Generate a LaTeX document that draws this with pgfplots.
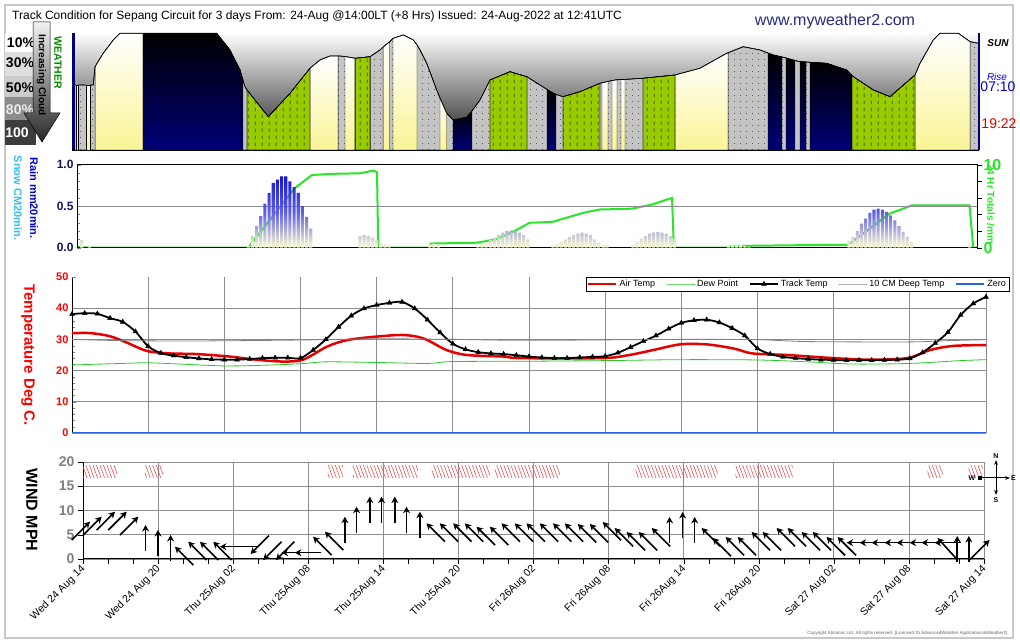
\documentclass[border=0pt]{standalone}
\usepackage{pgfplots}
\pgfplotsset{compat=1.18}
\usepackage{pgfplotstable}
\usetikzlibrary{patterns.meta,arrows.meta}
\usepackage{fontspec}
\setmainfont{Liberation Sans}
\newcommand\fs[1]{\fontsize{#1pt}{#1pt}\selectfont}

\definecolor{navyd}{RGB}{0,0,120}
\definecolor{sunnyc}{RGB}{250,244,150}
\definecolor{rainc}{RGB}{153,204,0}
\definecolor{cloudc}{RGB}{196,196,196}
\definecolor{barblue}{RGB}{20,20,215}
\definecolor{barmid}{RGB}{95,95,228}
\definecolor{barcream}{RGB}{252,252,205}
\definecolor{airred}{RGB}{230,0,0}
\definecolor{dewgreen}{RGB}{40,200,40}
\definecolor{zeroblue}{RGB}{40,100,230}
\definecolor{totgreen}{RGB}{40,230,40}
\definecolor{sitenavy}{RGB}{35,45,125}
\definecolor{framegrey}{RGB}{200,200,200}
\definecolor{ticknavy}{RGB}{20,20,90}
\definecolor{hatchred}{RGB}{235,70,70}

\tikzdeclarepattern{name=clouddots, type=uncolored,
  bounding box={(0pt,0pt) and (6pt,6pt)}, tile size={(6pt,6pt)},
  code={\fill (3pt,3pt) circle (0.45pt);}}
\tikzdeclarepattern{name=raindash, type=uncolored,
  bounding box={(0pt,0pt) and (7pt,7pt)}, tile size={(7pt,7pt)},
  code={\draw[line width=0.6pt] (3.5pt,1pt) -- (3.5pt,5pt);}}

% cloud envelope: hours from start, height in px above panel bottom
\pgfplotstableread{
h y
0 65
0.30 65
0.48 65
1.10 65
1.45 65
1.69 65
1.83 83.3
2.48 96.7
3.28 110
3.81 116.7
5.64 116.7
11.49 116.7
12.54 100
13.34 80
13.57 70
13.73 63.3
13.89 60
15.58 33.3
17.31 56.7
18.89 81.7
19.69 90
20.48 94
21.12 94
21.27 94
21.67 93.5
22.47 91.7
23.66 93.3
24.45 100
24.70 103
25.20 108
25.48 111.6
26.30 115
27.09 110
27.39 105
27.63 100
28.16 86.7
28.95 60
29.21 52
29.75 36.7
30.25 30
31.33 32.7
31.75 39
32.39 50
33.18 70
34.77 78.3
36.12 73.2
37.15 65
37.71 60.5
38.21 56.7
38.42 55.5
38.98 53.3
40.33 58.3
41.91 66.7
42.07 67.2
42.55 68.5
42.87 69.5
43.26 70.2
43.58 70.4
43.90 70.6
45.33 71.7
47.87 75
49.85 81.7
51.97 96.7
52.08 97.3
53.29 103.3
54.62 100
55.25 97
55.67 95
56.36 93
56.68 92
57.39 89.5
57.79 88.3
58.27 88
58.59 87.7
59.91 86.7
61.50 80
61.92 74.5
62.02 73.3
63.61 60
64.94 53.3
66.92 75
67.32 86.7
68.37 110
68.90 116.7
70.36 116.7
71.29 108.3
72 106.7
}\envelope

% rain mm per 20 min
\pgfplotstableread{
h r
0.38 0.09
1.00 0.01
13.70 0.02
14.03 0.14
14.37 0.26
14.70 0.38
15.03 0.53
15.37 0.66
15.70 0.78
16.03 0.82
16.37 0.86
16.70 0.86
17.03 0.80
17.37 0.73
17.70 0.66
18.03 0.50
18.37 0.37
18.70 0.23
22.64 0.14
22.97 0.15
23.30 0.14
23.64 0.12
23.97 0.09
24.30 0.06
24.64 0.04
24.97 0.03
28.20 0.04
28.55 0.05
28.90 0.03
32.07 0.02
32.40 0.04
32.73 0.06
33.07 0.09
33.40 0.12
33.73 0.15
34.07 0.18
34.40 0.20
34.73 0.21
35.07 0.20
35.40 0.18
35.73 0.15
36.07 0.10
38.07 0.02
38.40 0.04
38.73 0.07
39.07 0.10
39.40 0.13
39.73 0.15
40.07 0.17
40.40 0.18
40.73 0.17
41.07 0.15
41.40 0.10
41.73 0.06
42.10 0.04
42.40 0.03
44.47 0.03
44.80 0.07
45.13 0.11
45.47 0.14
45.80 0.17
46.13 0.18
46.47 0.19
46.80 0.18
47.13 0.17
47.47 0.14
47.80 0.11
52.10 0.03
52.43 0.03
52.76 0.03
53.10 0.03
53.43 0.02
53.76 0.01
61.76 0.08
62.09 0.13
62.43 0.20
62.76 0.29
63.09 0.35
63.43 0.42
63.76 0.46
64.09 0.47
64.43 0.46
64.76 0.43
65.09 0.39
65.43 0.33
65.76 0.26
66.09 0.19
66.43 0.13
66.76 0.07
71.40 0.03
}\rain

% 24 hr totals, mm
\pgfplotstableread{
h t
0 0.1
1 0
13.70 0
17.40 7.15
18.80 8.76
20.50 8.90
22.60 8.96
23.70 9.28
24.00 9.10
24.10 0
28.20 0
28.30 0.5
32.00 0.6
33.50 1.0
35.00 2.0
36.20 3.0
38.00 3.1
40.50 4.2
41.80 4.6
44.40 4.7
46.00 5.2
47.60 6.0
47.75 0
52.00 0
52.10 0.2
57.80 0.3
61.70 0.35
65.00 4.1
66.80 5.1
71.40 5.1
71.70 0
72 0
}\totals

\pgfplotstableread{
h v
0 32
1.5 32
3 31
4.3 29
5.9 26.3
7.7 25.5
9.8 25.3
12.4 24.5
14.5 23.5
16.6 22.9
18.2 23.5
20.1 27.7
21.7 29.8
24 30.9
26.1 31.4
27.7 30.3
29.5 26.6
31.1 25
34 24.5
35.3 24
41.8 24
43.9 25
45.8 26.6
47.9 28.4
50 28.4
52.1 27.1
53.6 25.5
56.3 25
60 24
62.9 23.5
65.8 24
67.6 26.6
69.4 27.9
72 28.2
}\airtemp

\pgfplotstableread{
h v
0 21.8
4 22.3
6 22.5
9 22
12 21.5
15 21.7
18 22.2
20 22.8
24 22.6
28 22.3
30 22.9
36 23.0
42 23.2
48 23.5
54 23.4
58 22.8
61.5 22.1
66 22.3
70 23.2
72 23.5
}\dewpoint

\pgfplotstableread{
h v
0 38.1
1 38.4
2 38.2
3 36.8
4 35.6
5 32.5
6 27.8
7 25.6
8 24.8
9 24.3
10 23.9
11 23.6
12 23.5
13 23.5
14 23.7
15 24.0
16 24.1
17 24.1
18 24.0
19 26.6
20 30.0
21 34.0
22 37.6
23 39.9
24 41.0
25 41.7
26 42.0
27 39.9
28 36.3
29 32.2
30 28.6
31 26.8
32 25.9
33 25.5
34 25.3
35 24.9
36 24.5
37 24.2
38 24.0
39 24.0
40 24.2
41 24.4
42 24.6
43 25.7
44 27.5
45 29.4
46 31.2
47 33.4
48 35.3
49 36.1
50 36.3
51 35.4
52 33.6
53 31.2
54 27.1
55 25.3
56 24.4
57 24.0
58 23.7
59 23.5
60 23.4
61 23.3
62 23.3
63 23.3
64 23.4
65 23.5
66 23.9
67 25.8
68 28.8
69 32.3
70 37.8
71 41.5
72 43.6
}\tracktemp

\pgfplotstableread{
h v
0 30
4 29.6
10 29.5
18 29.8
24 30.2
30 30
36 29.7
48 30
54 29.9
58 29.3
66 29.2
69 29.6
72 29.9
}\deeptemp

% wind arrows: tip position (hours, mph) and vector from tip back to tail
\pgfplotstableread{
x y u v
0.56 7.69 -1.47 -3.79
1.49 8.72 -1.47 -3.79
2.56 9.75 -1.47 -3.79
3.49 9.75 -1.47 -3.79
4.42 8.72 -1.47 -3.79
5.00 7.01 0 -5.36
5.99 5.98 0 -5.36
7.00 4.95 0 -5.36
7.35 2.54 1.47 -3.79
8.41 3.57 1.47 -3.79
9.35 3.57 1.47 -3.79
10.41 3.57 1.47 -3.79
10.94 2.54 2.96 0
13.39 1.03 1.47 3.79
14.40 -0.21 1.47 3.79
15.42 -0.21 1.47 3.79
15.87 1.30 2.08 0
16.93 1.30 2.08 0
18.39 4.60 1.47 -3.79
19.33 5.63 1.47 -3.79
20.93 8.72 0 -5.36
21.86 10.78 0 -5.36
22.92 12.85 0 -5.36
23.86 12.85 0 -5.36
24.92 12.85 0 -5.36
25.85 10.78 0 -5.36
26.92 9.75 0 -5.36
27.45 7.36 1.47 -3.79
28.51 7.36 1.47 -3.79
29.58 7.36 1.47 -3.79
30.51 7.36 1.47 -3.79
31.45 6.66 1.47 -3.79
32.51 6.66 1.47 -3.79
33.44 7.36 1.47 -3.79
34.50 7.36 1.47 -3.79
35.44 7.36 1.47 -3.79
36.50 7.36 1.47 -3.79
37.56 7.36 1.47 -3.79
38.50 7.36 1.47 -3.79
39.54 7.22 1.47 -3.79
40.50 7.22 1.47 -3.79
41.53 7.63 1.47 -3.79
42.49 6.39 1.47 -3.79
43.45 5.57 1.47 -3.79
44.41 5.57 1.47 -3.79
45.45 6.39 1.47 -3.79
46.88 8.66 0 -5.36
47.92 9.69 0 -5.36
48.88 8.66 0 -5.36
49.44 6.39 1.47 -3.79
50.32 4.33 1.47 -3.79
51.36 4.54 1.47 -3.79
52.32 4.54 1.47 -3.79
53.43 5.57 1.47 -3.79
54.31 5.57 1.47 -3.79
55.43 6.39 1.47 -3.79
56.31 6.39 1.47 -3.79
57.43 5.57 1.47 -3.79
58.31 5.57 1.47 -3.79
59.42 4.54 1.47 -3.79
60.30 4.54 1.47 -3.79
61.02 3.36 2.08 0
62.06 3.36 2.08 0
63.02 3.36 2.08 0
64.06 3.36 2.08 0
65.02 3.36 2.08 0
66.05 3.36 2.08 0
67.01 3.36 2.08 0
68.05 3.36 2.08 0
68.29 4.33 1.60 -4.54
69.86 4.74 0 -5.30
70.79 4.74 0 -5.30
72.44 3.92 -1.60 -4.12
}\windarrows

\pgfplotsset{
  panel/.style={scale only axis, anchor=south west, xmin=0, xmax=72,
    /pgf/number format/assume math mode=true},
  wxsun/.style={top color=white, bottom color=sunnyc, draw=black, line width=0.4pt},
  wxnight/.style={top color=black, bottom color=navyd, draw=black, line width=0.4pt},
  wxrain/.style={fill=rainc, draw=black, line width=0.4pt, postaction={pattern=raindash}},
  hatch/.style={draw=none, pattern={Lines[angle=-70, distance=3.3pt, line width=0.55pt]},
    pattern color=hatchred},
}

\begin{document}
\begin{tikzpicture}
\path[use as bounding box, fill=white] (0pt,0pt) rectangle (1020pt,644pt);
\draw[framegrey, line width=1.2pt] (5pt,6pt) rectangle (1013pt,639pt);

\node[anchor=west, font=\fs{12}, inner sep=0pt] at (12pt,628pt)
  {Track Condition for Sepang Circuit for 3 days From: 24-Aug @14:00LT (+8 Hrs) Issued: 24-Aug-2022 at 12:41UTC};
\node[font=\fs{16}, text=sitenavy, inner sep=0pt] at (835pt,623pt) {www.myweather2.com};

% ---------------- cloud / weather panel
\shade[top color=white, bottom color=black!92] (72pt,494pt) rectangle (979pt,611pt);
\begin{axis}[panel, at={(72pt,494pt)}, width=907pt, height=117pt,
  ymin=0, ymax=117, axis lines=none, clip=true]
\addplot[fill=cloudc, draw=black, line width=0.4pt, postaction={pattern=clouddots}]
  table[x=h, y=y] {\envelope} \closedcycle;
\pgfplotsinvokeforeach{0.295:0.485, 1.095:1.455, 1.825:5.645, 18.885:21.125,
  21.665:22.475, 24.695:25.205, 25.475:27.395, 29.205:29.755, 42.065:42.555,
  42.865:43.265, 43.575:43.905, 47.865:52.085, 66.915:71.295}{
  \addplot[wxsun, restrict x to domain=#1] table[x=h, y=y] {\envelope} \closedcycle;
}
\pgfplotsinvokeforeach{5.635:13.575, 30.245:31.755, 37.705:38.425, 55.245:56.365,
  56.675:57.395, 57.785:58.275, 58.585:61.925}{
  \addplot[wxnight, restrict x to domain=#1] table[x=h, y=y] {\envelope} \closedcycle;
}
\pgfplotsinvokeforeach{13.885:18.895, 22.465:23.665, 33.175:36.125, 38.975:41.915,
  45.325:47.875, 61.915:66.925}{
  \addplot[wxrain, restrict x to domain=#1] table[x=h, y=y] {\envelope} \closedcycle;
}
\addplot[black, line width=0.6pt] table[x=h, y=y] {\envelope};
\end{axis}
\fill[navyd] (72pt,494pt) rectangle (74.5pt,611pt);
\draw[navyd, line width=2pt] (979pt,494pt) -- (979pt,611pt);
\draw[black, line width=0.8pt] (72pt,494pt) -- (979pt,494pt);

% cloud key
\fill[white] (5pt,592pt) rectangle (36pt,610pt);
\fill[black!13] (5pt,568pt) rectangle (36pt,592pt);
\fill[black!20] (5pt,547pt) rectangle (36pt,568pt);
\fill[black!45] (5pt,524pt) rectangle (36pt,547pt);
\fill[black!76] (5pt,499pt) rectangle (36pt,524pt);
\node[font=\bfseries\fs{14}] at (21pt,601pt) {10\%};
\node[font=\bfseries\fs{14}] at (20pt,581pt) {30\%};
\node[font=\bfseries\fs{14}] at (20pt,556pt) {50\%};
\node[font=\bfseries\fs{14}, text=black!8] at (20pt,534pt) {80\%};
\node[font=\bfseries\fs{14}, text=white] at (17pt,511pt) {100};
\shade[top color=black!5, bottom color=black!85, draw=black, line width=0.5pt]
  (33pt,622pt) -- (50pt,622pt) -- (50pt,531pt) -- (60pt,531pt) -- (42pt,502pt)
  -- (24pt,531pt) -- (33pt,531pt) -- cycle;
\node[rotate=-90, font=\bfseries\fs{10}] at (41.5pt,569pt) {Increasing Cloud};
\node[rotate=-90, font=\bfseries\fs{10.5}, text=green!55!black] at (58pt,581pt) {WEATHER};

% sun times
\node[font=\bfseries\itshape\fs{10}] at (998pt,601pt) {SUN};
\node[font=\itshape\fs{10}, text=blue] at (997pt,567pt) {Rise};
\node[font=\fs{14}, text=blue!80!black] at (998pt,557pt) {07:10};
\node[font=\fs{14}, text=red!90!black] at (999pt,520pt) {19:22};

% ---------------- rain panel
\begin{axis}[panel, at={(77pt,396.3pt)}, width=900pt, height=83pt,
  ymin=0, ymax=10, axis x line=none, axis y line*=right,
  ytick={0,10}, minor ytick={2,4,6,8}, tick align=outside,
  major tick length=5pt, minor tick length=5pt, tick style={black},
  yticklabel style={text=totgreen, font=\bfseries\fs{16}, xshift=-2pt}]
\addplot[totgreen, line width=2pt] table[x=h, y=t] {\totals};
\end{axis}
\begin{axis}[panel, at={(77pt,396.3pt)}, width=900pt, height=83pt,
  ymin=0, ymax=1, xtick=\empty, ytick={0,0.5,1}, yticklabels={0.0,0.5,1.0},
  minor ytick={0.1,0.2,0.3,0.4,0.6,0.7,0.8,0.9}, ytick pos=left,
  tick align=inside, major tick length=4pt, minor tick length=3pt,
  ymajorgrids, grid style={black!45, line width=0.6pt},
  axis line style={black, line width=1pt},
  yticklabel style={text=ticknavy, font=\bfseries\fs{12}}]
\addplot[ybar, bar width=3.2pt, draw=none, top color=barblue, bottom color=barcream,
  middle color=barmid] table[x=h, y=r] {\rain};
\end{axis}
\node[rotate=-90, font=\bfseries\fs{11}, text=blue!85!black] at (34pt,446pt) {Rain mm20min.};
\node[rotate=-90, font=\bfseries\fs{11}, text=cyan!80!white] at (18pt,446pt) {Snow CM20min.};
\node[rotate=-90, font=\bfseries\fs{10}, text=totgreen] at (991pt,440pt) {24 Hr Totals /mm};

% ---------------- temperature panel
\begin{axis}[panel, at={(72pt,211pt)}, width=914pt, height=156pt,
  ymin=0, ymax=50, xtick={0,6,...,72}, xticklabels={}, xtick style={draw=none},
  ytick={0,10,...,40}, extra y ticks={50}, extra y tick style={grid=none},
  minor y tick num=4, tick align=inside,
  xmajorgrids, ymajorgrids, grid style={black!45, line width=0.8pt},
  axis lines*=left, x axis line style={draw=none},
  axis line style={black, line width=1pt},
  yticklabel style={text=red, font=\bfseries\fs{11}},
  legend columns=5,
  legend style={at={(1.025,1)}, anchor=north east, draw=black, line width=0.6pt,
    font=\fs{9}, inner sep=1pt, outer sep=0pt,
    /tikz/every even column/.append style={column sep=9pt}},
  legend image code/.code={\draw[mark repeat=2, mark phase=2, #1]
    plot coordinates {(0pt,0pt) (14pt,0pt) (28pt,0pt)};}]
\addplot[airred, line width=2.5pt, smooth] table[x=h, y=v] {\airtemp};
\addlegendentry{Air Temp}
\addplot[dewgreen, line width=0.8pt, smooth] table[x=h, y=v] {\dewpoint};
\addlegendentry{Dew Point}
\addplot[black, line width=1.8pt, smooth, mark=triangle*, mark size=2.8pt,
  mark options={solid, line width=0.4pt}] table[x=h, y=v] {\tracktemp};
\addlegendentry{Track Temp}
\addplot[black!50, line width=0.8pt, smooth] table[x=h, y=v] {\deeptemp};
\addlegendentry{10 CM Deep Temp}
\addplot[zeroblue, line width=2pt] coordinates {(0,0) (72,0)};
\addlegendentry{Zero}
\end{axis}
\node[rotate=-90, font=\bfseries\fs{15}, text=red] at (28pt,289pt) {Temperature Deg C.};

% ---------------- wind panel
\begin{axis}[panel, at={(83pt,85pt)}, width=901pt, height=97pt,
  ymin=0, ymax=20, clip=false,
  xtick={0,6,...,72}, minor x tick num=2,
  xticklabels={Wed 24 Aug 14, Wed 24 Aug 20, Thu 25Aug 02, Thu 25Aug 08,
    Thu 25Aug 14, Thu 25Aug 20, Fri 26Aug 02, Fri 26Aug 08, Fri 26Aug 14,
    Fri 26Aug 20, Sat 27 Aug 02, Sat 27 Aug 08, Sat 27 Aug 14},
  xticklabel style={rotate=45, anchor=east, font=\fs{10.5}, inner sep=1pt,
    xshift=-1pt, yshift=-3pt},
  ytick={0,5,...,20}, tick align=outside, major tick length=5pt, minor tick length=5pt,
  xmajorgrids, ymajorgrids, grid style={black!45, line width=0.8pt},
  axis lines*=left, axis line style={black, line width=1pt}, tick style={black},
  yticklabel style={text=black!50, font=\bfseries\fs{14}}]
\addplot[hatch] coordinates {(0,16.9) (0,19.2) (2.72,19.2) (2.72,16.9)} -- cycle;
\addplot[hatch] coordinates {(4.95,16.9) (4.95,19.2) (6.39,19.2) (6.39,16.9)} -- cycle;
\addplot[hatch] coordinates {(19.57,16.9) (19.57,19.2) (20.77,19.2) (20.77,16.9)} -- cycle;
\addplot[hatch] coordinates {(21.57,16.9) (21.57,19.2) (26.76,19.2) (26.76,16.9)} -- cycle;
\addplot[hatch] coordinates {(27.88,16.9) (27.88,19.2) (32.51,19.2) (32.51,16.9)} -- cycle;
\addplot[hatch] coordinates {(32.91,16.9) (32.91,19.2) (38.1,19.2) (38.1,16.9)} -- cycle;
\addplot[hatch] coordinates {(44.17,16.9) (44.17,19.2) (50.72,19.2) (50.72,16.9)} -- cycle;
\addplot[hatch] coordinates {(52.16,16.9) (52.16,19.2) (56.71,19.2) (56.71,16.9)} -- cycle;
\addplot[hatch] coordinates {(67.49,16.9) (67.49,19.2) (68.69,19.2) (68.69,16.9)} -- cycle;
\addplot[hatch] coordinates {(70.77,16.9) (70.77,19.2) (71.88,19.2) (71.88,16.9)} -- cycle;
\addplot[black, line width=1.6pt, {Stealth[length=6.5pt, width=7pt]}-,
  quiver={u=\thisrow{u}, v=\thisrow{v}}] table[x=x, y=y] {\windarrows};
\end{axis}
\node[rotate=-90, font=\bfseries\fs{16}] at (32pt,134pt) {WIND MPH};

% compass
\draw[black, line width=1pt, -{Stealth[length=5pt]}] (996pt,166pt) -- (996pt,184pt);
\draw[black, line width=1pt, -{Stealth[length=5pt]}] (996pt,166pt) -- (996pt,149pt);
\draw[black, line width=1pt, -{Stealth[length=5pt]}] (996pt,166pt) -- (1010pt,166pt);
\draw[black, line width=1pt, -{Square[length=4pt]}] (996pt,166pt) -- (978pt,166pt);
\node[font=\bfseries\fs{7}] at (996pt,188pt) {N};
\node[font=\bfseries\fs{7}] at (996pt,144pt) {S};
\node[font=\bfseries\fs{7}] at (972pt,166pt) {W};
\node[font=\bfseries\fs{7}, anchor=west, inner sep=1pt] at (1010pt,166pt) {E};

\node[font=\fs{4.5}, text=black!60, anchor=east] at (1011pt,11pt)
  {Copyright Almanac Ltd. All rights reserved. [Licensed To AdvancedWeather Applications\&Weather2]};
\end{tikzpicture}
\end{document}
